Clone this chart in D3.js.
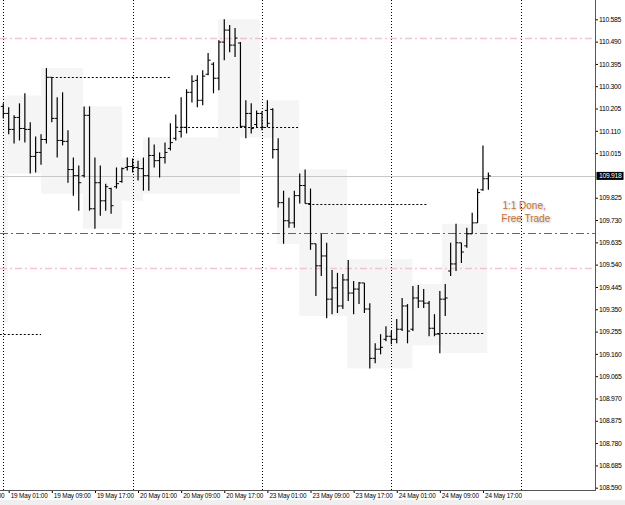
<!DOCTYPE html>
<meta charset="utf-8">
<script src="https://d3js.org/d3.v7.min.js"></script>
<style>
  body { margin: 0; background: #fff; }
  svg { display: block; font-family: "Liberation Sans", Arial, sans-serif; }
</style>
<div id="chart"></div>
<script>
// H1 bars, index 0 = 19 May 00:00 (weekend skipped, 23 May 00:00 = index 48)
const opens = [110.214,110.184,110.116,110.167,110.120,110.116,110.001,110.018,110.073,110.338,
  110.163,110.069,110.065,109.945,109.919,109.919,110.176,109.778,109.889,109.812,
  109.864,109.872,109.894,109.954,109.958,109.954,109.949,109.919,110.005,109.983,
  109.996,110.035,110.078,110.107,110.125,110.274,110.325,110.240,110.351,110.394,
  110.334,110.488,110.539,110.475,110.484,110.129,110.184,110.137,110.184,110.197,
  110.201,110.030,109.804,109.727,109.718,109.834,109.877,109.800,109.629,109.535,
  109.577,109.393,109.441,109.364,109.475,109.419,109.436,109.462,109.351,109.141,
  109.180,109.222,109.235,109.222,109.265,109.364,109.265,109.398,109.385,109.376,
  109.269,109.244,109.393,109.513,109.543,109.633,109.620,109.671,109.718,109.859,
  109.906];
const highs = [110.227,110.210,110.176,110.227,110.270,110.146,110.086,110.095,110.377,110.338,
  110.253,110.274,110.112,109.996,109.962,110.214,110.214,109.996,109.962,109.885,
  109.868,109.954,109.954,109.996,109.992,109.983,109.996,110.082,110.052,110.018,
  110.060,110.142,110.180,110.253,110.287,110.347,110.347,110.368,110.441,110.402,
  110.496,110.585,110.561,110.548,110.488,110.240,110.227,110.197,110.193,110.240,
  110.206,110.078,109.855,109.825,109.855,109.928,109.945,109.864,109.629,109.671,
  109.633,109.517,109.505,109.500,109.560,109.470,109.466,109.462,109.376,109.205,
  109.244,109.278,109.257,109.308,109.398,109.372,109.449,109.453,109.436,109.385,
  109.329,109.428,109.458,109.633,109.714,109.633,109.697,109.761,109.864,110.048,
  109.932];
const lows = [110.163,110.095,110.056,110.069,110.060,109.928,109.932,109.966,110.056,110.146,
  109.996,110.048,109.889,109.834,109.770,109.911,109.770,109.693,109.748,109.770,
  109.757,109.864,109.889,109.941,109.932,109.898,109.855,109.855,109.954,109.911,
  109.971,110.026,110.069,110.082,110.099,110.231,110.210,110.219,110.347,110.270,
  110.283,110.411,110.445,110.424,110.125,110.078,110.099,110.125,110.112,110.125,
  109.992,109.783,109.629,109.697,109.697,109.800,109.800,109.603,109.406,109.492,
  109.312,109.329,109.334,109.351,109.385,109.329,109.372,109.334,109.098,109.120,
  109.158,109.214,109.201,109.205,109.257,109.205,109.257,109.355,109.355,109.235,
  109.235,109.163,109.321,109.492,109.513,109.547,109.612,109.671,109.718,109.855,
  109.859];
const closes = [110.184,110.116,110.167,110.120,110.116,110.001,110.018,110.073,110.338,110.163,
  110.069,110.065,109.945,109.919,109.889,110.176,109.778,109.889,109.812,109.872,
  109.791,109.885,109.949,109.958,109.954,109.949,109.919,110.005,109.983,109.996,
  110.018,110.060,110.125,110.125,110.274,110.321,110.240,110.343,110.411,110.334,
  110.488,110.539,110.475,110.505,110.129,110.184,110.120,110.184,110.125,110.142,
  110.030,109.804,109.727,109.718,109.834,109.877,109.800,109.629,109.535,109.577,
  109.393,109.441,109.364,109.475,109.419,109.436,109.462,109.351,109.141,109.180,
  109.188,109.235,109.222,109.265,109.364,109.257,109.398,109.385,109.376,109.269,
  109.244,109.393,109.398,109.543,109.633,109.594,109.671,109.718,109.847,109.906,
  109.918];

const timeTicks  = [-7, 1, 9, 17, 25, 33, 41, 49, 57, 65, 73, 81, 89];
const timeLabels = ["18 May 17:00","19 May 01:00","19 May 09:00","19 May 17:00","20 May 01:00",
  "20 May 09:00","20 May 17:00","23 May 01:00","23 May 09:00","23 May 17:00",
  "24 May 01:00","24 May 09:00","24 May 17:00"];
const daySeparators = [0, 24, 48, 72, 96];

const priceTicks = [110.585,110.490,110.395,110.300,110.205,110.110,110.015,109.825,109.730,
  109.635,109.540,109.445,109.350,109.255,109.160,109.065,108.970,108.875,108.780,108.685,108.590];
const lastPrice = 109.918;

// shaded range boxes (bar edges, high, low)
const boxFrom = [-0.1, 0.8, 7, 14.8, 22, 25.9, 39.8, 47.6, 50.8, 54.9, 63.8, 72.7, 81.4];
const boxTo   = [0.8, 7, 14.8, 22, 25.9, 43.9, 47.6, 50.8, 54.9, 63.8, 75.9, 81.4, 89.8];
const boxHigh = [110.253,110.261,110.377,110.214,109.996,110.082,110.585,110.240,110.240,109.945,109.564,109.458,109.714];
const boxLow  = [109.291,109.928,109.842,109.693,109.812,109.842,110.082,110.078,109.629,109.321,109.098,109.197,109.163];

// dotted open levels
const segFrom  = [9, 32.8, 56.6, -0.65, 80.5];
const segTo    = [31, 54.9, 78.8, 7, 89.4];
const segPrice = [110.338, 110.128, 109.798, 109.243, 109.247];

const pinkLevels = [110.507, 109.524];
const greyLevel = 109.674;

const W = 625, H = 505, plotRight = 595, plotBottom = 490;

const svg = d3.select("#chart").append("svg")
  .attr("width", W).attr("height", H);

const x = d3.scaleLinear().domain([0, 96]).range([3.3, 520.7]);
const y = d3.scaleLinear().domain([108.59, 110.585]).range([487.7, 19.3]);

svg.append("clipPath").attr("id", "plot")
  .append("rect").attr("width", plotRight).attr("height", plotBottom);

const g = svg.append("g").attr("clip-path", "url(#plot)");

// boxes
g.selectAll("rect.box")
  .data(boxFrom)
  .join("rect")
    .attr("class", "box")
    .attr("x", (d, i) => x(d))
    .attr("width", (d, i) => x(boxTo[i]) - x(d))
    .attr("y", (d, i) => y(boxHigh[i]))
    .attr("height", (d, i) => y(boxLow[i]) - y(boxHigh[i]))
    .attr("fill", "#f5f5f5");

// day separators
g.selectAll("line.sep")
  .data(daySeparators)
  .join("line")
    .attr("x1", d => Math.round(x(d)) + 0.5).attr("x2", d => Math.round(x(d)) + 0.5)
    .attr("y1", 0).attr("y2", plotBottom)
    .attr("stroke", "#000").attr("stroke-dasharray", "1,2");

// horizontal levels
g.selectAll("line.pink")
  .data(pinkLevels)
  .join("line")
    .attr("x1", 0).attr("x2", plotRight)
    .attr("y1", d => Math.round(y(d)) + 0.5).attr("y2", d => Math.round(y(d)) + 0.5)
    .attr("stroke", "#f0c4d0").attr("stroke-width", 1.5).attr("stroke-dasharray", "7,3,2,3");

g.append("line")
  .attr("x1", 0).attr("x2", plotRight)
  .attr("y1", Math.round(y(greyLevel)) + 0.5).attr("y2", Math.round(y(greyLevel)) + 0.5)
  .attr("stroke", "#666").attr("stroke-dasharray", "8,3,2,3");

g.append("line")
  .attr("x1", 0).attr("x2", plotRight)
  .attr("y1", Math.round(y(lastPrice)) + 0.5).attr("y2", Math.round(y(lastPrice)) + 0.5)
  .attr("stroke", "#c8c8c8");

// dotted open segments
g.selectAll("line.seg")
  .data(segPrice)
  .join("line")
    .attr("x1", (d, i) => x(segFrom[i])).attr("x2", (d, i) => x(segTo[i]))
    .attr("y1", d => Math.round(y(d)) + 0.5).attr("y2", d => Math.round(y(d)) + 0.5)
    .attr("stroke", "#000").attr("stroke-dasharray", "2,2");

// OHLC bars
const bars = g.selectAll("g.bar")
  .data(d3.range(opens.length))
  .join("g")
    .attr("stroke", "#000");
bars.append("line")
  .attr("x1", i => x(i)).attr("x2", i => x(i))
  .attr("y1", i => y(highs[i])).attr("y2", i => y(lows[i]))
  .attr("stroke-width", 1.2);
bars.append("line")
  .attr("x1", i => x(i) - 2.5).attr("x2", i => x(i))
  .attr("y1", i => y(opens[i])).attr("y2", i => y(opens[i]));
bars.append("line")
  .attr("x1", i => x(i)).attr("x2", i => x(i) + 2.5)
  .attr("y1", i => y(closes[i])).attr("y2", i => y(closes[i]));

// annotation
const note = g.append("g")
  .attr("fill", "#c4743a")
  .attr("font-size", "10px")
  .style("text-shadow", "1px 1px 2px rgba(0,0,0,0.25)");
note.append("text").attr("x", x(92.6)).attr("y", y(109.794)).attr("dy", "0.35em").text("1:1 Done,");
note.append("text").attr("x", x(92.4)).attr("y", y(109.735)).attr("dy", "0.35em").text("Free Trade");

// bottom strip
svg.append("rect").attr("x", 0).attr("y", 500).attr("width", W).attr("height", 5).attr("fill", "#efefef");

// price axis
const yAxis = svg.append("g")
  .attr("transform", `translate(${plotRight},0)`)
  .call(d3.axisRight(y).tickValues(priceTicks).tickSize(3).tickFormat(d3.format(".3f")));
yAxis.select(".domain").remove();
yAxis.selectAll("text").attr("x", 4).attr("font-size", "6.8px").attr("letter-spacing", "-0.3px").attr("fill", "#000");
svg.append("line")
  .attr("x1", plotRight + 0.5).attr("x2", plotRight + 0.5).attr("y1", 0).attr("y2", plotBottom)
  .attr("stroke", "#555");

// time axis
const xAxis = svg.append("g")
  .attr("transform", `translate(0,${plotBottom})`)
  .call(d3.axisBottom(x).tickValues(timeTicks).tickSize(3).tickFormat((d, i) => timeLabels[i]));
xAxis.select(".domain").remove();
xAxis.selectAll("text")
  .attr("text-anchor", "start").attr("x", 1.5).attr("y", 3).attr("dy", "0.71em")
  .attr("font-size", "6.4px").attr("letter-spacing", "-0.15px").attr("fill", "#000");
svg.append("line")
  .attr("x1", 0).attr("x2", plotRight + 1).attr("y1", plotBottom + 0.5).attr("y2", plotBottom + 0.5)
  .attr("stroke", "#555");

// last price tag
svg.append("rect")
  .attr("x", plotRight + 1.5).attr("y", y(lastPrice) - 4).attr("width", 27).attr("height", 8)
  .attr("fill", "#000");
svg.append("text")
  .attr("x", plotRight + 4).attr("y", y(lastPrice)).attr("dy", "0.35em")
  .attr("font-size", "6.8px").attr("letter-spacing", "-0.3px").attr("fill", "#fff")
  .text(d3.format(".3f")(lastPrice));
</script>
